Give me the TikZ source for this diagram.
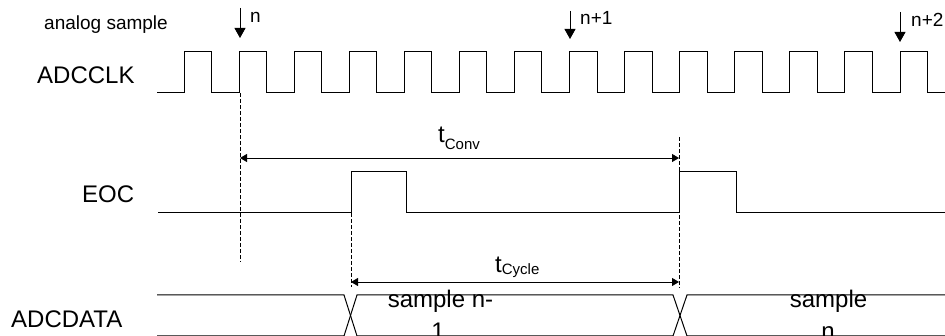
\documentclass[tikz,border=0pt]{standalone}
\usepackage{fontspec}
\setmainfont{Liberation Sans}
\usetikzlibrary{arrows.meta}
\tikzset{
  sig/.style={line width=1pt, black},
  guide/.style={line width=1pt, dash pattern=on 4pt off 2pt},
  dimline/.style={line width=0.9pt, {Triangle[length=7pt,width=8pt]}-{Triangle[length=7pt,width=8pt]}},
  samparrow/.style={line width=0.9pt, -{Triangle[length=10pt,width=11pt]}},
  lab/.style={inner sep=0pt, font=\fontsize{24}{24}\selectfont},
  smalllab/.style={inner sep=0pt, font=\fontsize{19}{19}\selectfont},
}
\begin{document}
\begin{tikzpicture}[x=1pt,y=-1pt]
\useasboundingbox (0,0) rectangle (945,336);
\clip (0,0) rectangle (945,336);

% signal labels
\node[smalllab, anchor=base west] (analog) at (44,30) {analog sample};
\node[lab, anchor=west] (clkl) at (37,75.5) {ADCCLK};
\node[lab, anchor=west] (eocl) at (82,194.5) {EOC};
\node[lab, anchor=west] (datal) at (11,319.5) {ADCDATA};

% sample arrows
\coordinate (s0a) at (240,8);   \coordinate (s0b) at (240,38);
\coordinate (s1a) at (570,11);  \coordinate (s1b) at (570,39);
\coordinate (s2a) at (900,12);  \coordinate (s2b) at (900,42);
\draw[samparrow] (s0a) -- (s0b);
\draw[samparrow] (s1a) -- (s1b);
\draw[samparrow] (s2a) -- (s2b);
\node[smalllab, anchor=base west] (n0) at (250,23) {n};
\node[smalllab, anchor=base west] (n1) at (580,25) {n+1};
\node[smalllab, anchor=base west] (n2) at (911,27) {n+2};

% clock
\draw[sig] (157,93)
  \foreach \k in {0,...,13}{
    -- ({184+55.077*\k},93) -- ({184+55.077*\k},52)
    -- ({211.5+55.077*\k},52) -- ({211.5+55.077*\k},93)
  } -- (945,93);

% EOC
\draw[sig] (158,213) -- (351,213) -- (351,172) -- (406,172) -- (406,213)
  -- (679,213) -- (679,172) -- (736,172) -- (736,213) -- (945,213);

% guide lines
\coordinate (g1a) at (240,93);  \coordinate (g1b) at (240,262);
\coordinate (g2a) at (351,213); \coordinate (g2b) at (351,287);
\coordinate (g3a) at (679,137); \coordinate (g3b) at (679,288);
\draw[guide] (g1a) -- (g1b);
\draw[guide] (g2a) -- (g2b);
\draw[guide] (g3a) -- (g3b);

% dimensions
\coordinate (c1) at (240,158); \coordinate (c2) at (679,158);
\draw[dimline] (c1) -- (c2);
\node[inner sep=0pt, anchor=base west] (tconv) at (438,143)
  {\fontsize{24}{24}\selectfont t\raisebox{-7pt}{\fontsize{15}{15}\selectfont Conv}};
\coordinate (d1) at (351,282); \coordinate (d2) at (679,282);
\draw[dimline] (d1) -- (d2);
\node[inner sep=0pt, anchor=base west] (tcycle) at (495,273)
  {\fontsize{24}{24}\selectfont t\raisebox{-2pt}{\fontsize{15}{15}\selectfont Cycle}};

% ADCDATA bus
\draw[sig] (157,295) -- (344,295) -- (357,336);
\draw[sig] (157,336) -- (344,336) -- (357,295) -- (673,295) -- (687,336) -- (945,336);
\draw[sig] (357,336) -- (673,336) -- (687,295) -- (945,295);
\node[lab, anchor=base] (d1a) at (440.5,308) {sample n-};
\node[lab, anchor=base] (d1b) at (438,340) {1};
\node[lab, anchor=base] (d2a) at (828.5,308) {sample};
\node[lab, anchor=base] (d2b) at (828,340) {n};
\end{tikzpicture}
\end{document}
